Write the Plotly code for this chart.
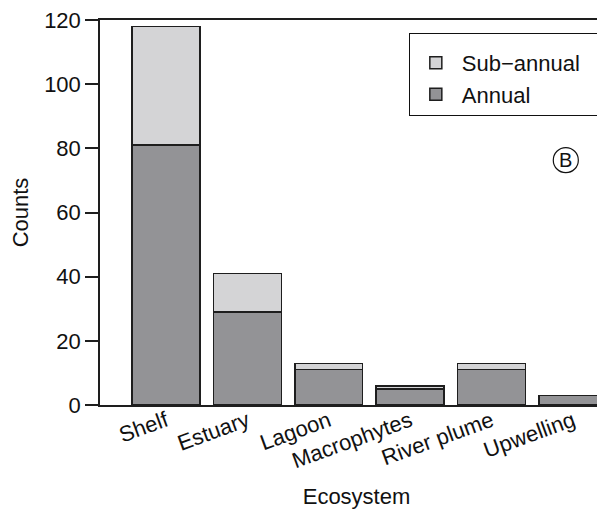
import plotly.graph_objects as go

categories = ["Shelf", "Estuary", "Lagoon", "Macrophytes", "River plume", "Upwelling"]
annual = [81, 29, 11, 5, 11, 3]
sub_annual = [37, 12, 2, 1, 2, 0]
y_ticks = [0, 20, 40, 60, 80, 100, 120]

FONT = "Liberation Sans, Arial, sans-serif"
FS = 22
line = dict(color="#1e1e1e", width=1.5)

fig = go.Figure()
fig.add_trace(go.Bar(x=categories, y=annual, name="Annual",
                     marker=dict(color="#939396", line=line), width=0.835))
fig.add_trace(go.Bar(x=categories, y=sub_annual, name="Sub\u2212annual\u00a0\u00a0",
                     marker=dict(color="#d4d4d6", line=line), width=0.835))

fig.update_layout(
    width=605, height=512,
    margin=dict(l=92, r=0, t=12, b=115, autoexpand=False),
    barmode="stack",
    plot_bgcolor="white", paper_bgcolor="white",
    font=dict(family=FONT, size=FS, color="#111"),
    legend=dict(x=0.602, y=0.966, xanchor="left", yanchor="top",
                traceorder="reversed", bordercolor="#111", borderwidth=1,
                font=dict(size=FS), itemwidth=42, tracegroupgap=0,
                title=dict(text="\u00a0", font=dict(size=6))),
    showlegend=True,
)
fig.update_xaxes(
    range=[-0.81, 5.492], showline=True, linecolor="#1e1e1e", linewidth=1.5,
    mirror=True, ticks="", tickangle=-20, showgrid=False, automargin=False,
    ticklabelstandoff=-7, ticklabeloverflow="allow",
    title=dict(text="Ecosystem", font=dict(size=FS), standoff=16),
    tickfont=dict(size=FS),
)
fig.update_yaxes(
    range=[0, 120], tickvals=y_ticks, showline=True, linecolor="#1e1e1e",
    linewidth=1.5, ticks="outside", ticklen=13, tickwidth=1.5, tickcolor="#1e1e1e",
    showgrid=False, zeroline=False, automargin=False, ticklabeloverflow="allow",
    title=dict(text="Counts", font=dict(size=FS), standoff=14),
    tickfont=dict(size=FS),
)
cx, cy = 0.908, 0.636
fig.add_shape(type="circle", xref="paper", yref="paper",
              x0=cx - 0.0244, x1=cx + 0.0244, y0=cy - 0.0325, y1=cy + 0.0325,
              line=dict(color="#111", width=1.2))
fig.add_annotation(x=cx, y=cy, xref="paper", yref="paper", xanchor="center",
                   yanchor="middle", text="B", showarrow=False, font=dict(size=20))

fig.write_html("out.html")
